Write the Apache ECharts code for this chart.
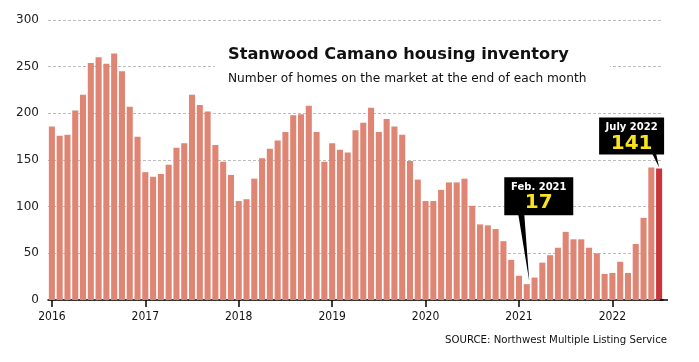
<!DOCTYPE html>
<html>
<head>
<meta charset="utf-8">
<script src="https://cdn.jsdelivr.net/npm/echarts@6/dist/echarts.min.js"></script>
<style>
html,body{margin:0;padding:0;background:#fff;}
#chart{width:699px;height:362px;}
</style>
</head>
<body>
<div id="chart"></div>
<script>
// ---- data ----
const years = ['2016','2017','2018','2019','2020','2021','2022'];
const monthNames = ['Jan','Feb','Mar','Apr','May','Jun','Jul','Aug','Sep','Oct','Nov','Dec'];
const inv2016 = [186,176,177,203,220,254,260,253,264,245,207,175];
const inv2017 = [137,132,135,145,163,168,220,209,202,166,148,134];
const inv2018 = [106,108,130,152,162,171,180,198,199,208,180,148];
const inv2019 = [168,161,158,182,190,206,180,194,186,177,149,129];
const inv2020 = [106,106,118,126,126,130,101,81,80,76,63,43];
const inv2021 = [26,17,24,40,48,56,73,65,65,56,50,28];
const inv2022 = [29,41,29,60,88,142,141];
const yTicks = [0,50,100,150,200,250,300];
const titleText = 'Stanwood Camano housing inventory';
const subtitleText = 'Number of homes on the market at the end of each month';
const sourceText = 'SOURCE: Northwest Multiple Listing Service';
const callouts = [
  {label: 'Feb. 2021', year: '2021', month: 'Feb'},
  {label: 'July 2022', year: '2022', month: 'Jul'}
];

const yearly = [inv2016, inv2017, inv2018, inv2019, inv2020, inv2021, inv2022];
const categories = [];
const values = [];
yearly.forEach((arr, yi) => {
  arr.forEach((v, mi) => {
    categories.push(years[yi] + ' ' + monthNames[mi]);
    values.push(v);
  });
});
const lastIdx = values.length - 1;

const chart = echarts.init(document.getElementById('chart'), null, {renderer: 'canvas'});
const LIGHT = '#df8574', DARK = '#c8353b';
const axisFont = "'DejaVu Sans Condensed','Liberation Sans',sans-serif";

chart.setOption({
  animation: false,
  backgroundColor: '#fff',
  grid: {left: 48, right: 36, top: 20, bottom: 62, containLabel: false},
  xAxis: {
    type: 'category',
    data: categories,
    boundaryGap: true,
    axisLine: {show: true, lineStyle: {color: '#000', width: 1.5}},
    axisTick: {show: true, alignWithLabel: true, length: 7, interval: (i) => i % 12 === 0, lineStyle: {color: '#000', width: 1.5}},
    axisLabel: {
      interval: (i) => i % 12 === 0,
      formatter: (v) => v.split(' ')[0],
      color: '#111', fontFamily: axisFont, fontSize: 12, margin: 11
    },
    splitLine: {show: false}
  },
  yAxis: {
    type: 'value',
    min: yTicks[0], max: yTicks[yTicks.length - 1], interval: 50,
    axisLine: {show: false},
    axisTick: {show: false},
    axisLabel: {color: '#222', fontFamily: "'DejaVu Sans',sans-serif", fontSize: 12, margin: 9},
    splitLine: {show: true, lineStyle: {color: '#bdbdbd', type: [3, 2], width: 1}}
  },
  series: [{
    type: 'bar',
    data: values,
    barCategoryGap: '22%',
    itemStyle: {color: (p) => p.dataIndex === lastIdx ? DARK : LIGHT},
    z: 2
  }]
});

const graphics = [
  {type: 'line', z: 5, shape: {x1: 660, y1: 300, x2: 668, y2: 300}, style: {stroke: '#000', lineWidth: 1.5}},
  {type: 'rect', z: 50, shape: {x: 215, y: 32, width: 395, height: 62}, style: {fill: '#fff'}},
  {type: 'text', z: 51, x: 228, y: 54.5, style: {text: titleText, font: "bold 16.2px 'DejaVu Sans', sans-serif", fill: '#111', textVerticalAlign: 'middle'}},
  {type: 'text', z: 51, x: 228, y: 79, style: {text: subtitleText, font: "12.2px 'DejaVu Sans', sans-serif", fill: '#111', textVerticalAlign: 'middle'}},
  {type: 'text', z: 51, x: 667, y: 340, style: {text: sourceText, font: "11.3px 'DejaVu Sans Condensed','Liberation Sans',sans-serif", fill: '#111', textAlign: 'right', textVerticalAlign: 'middle'}}
];

// callouts, positioned from data through the series scale
const layouts = [
  {dx: 12, gap: 69, w: 69, h: 38, baseL: -8.5, baseR: -2.5, tipDx: 2.5, tipDy: -3},
  {dx: -27.5, gap: 14, w: 65, h: 37, baseL: -7, baseR: -3, tipDx: 0, tipDy: -1}
];
callouts.forEach((c, k) => {
  const idx = categories.indexOf(c.year + ' ' + c.month);
  const val = values[idx];
  const pt = chart.convertToPixel({seriesIndex: 0}, [idx, val]);
  const L = layouts[k];
  const cx = pt[0] + L.dx;
  const bottom = pt[1] - L.gap;
  const top = bottom - L.h;
  graphics.push({type: 'polygon', z: 60, shape: {points: [[pt[0] + L.baseL, bottom - 1], [pt[0] + L.baseR, bottom - 1], [pt[0] + L.tipDx, pt[1] + L.tipDy]]}, style: {fill: '#000'}});
  graphics.push({type: 'rect', z: 60, shape: {x: cx - L.w / 2, y: top, width: L.w, height: L.h}, style: {fill: '#000'}});
  graphics.push({type: 'text', z: 61, x: cx, y: top + 10, style: {text: c.label, font: "bold 10px 'DejaVu Sans', sans-serif", fill: '#fff', textAlign: 'center', textVerticalAlign: 'middle'}});
  graphics.push({type: 'text', z: 61, x: cx, y: top + 26, style: {text: String(val), font: "bold 20px 'DejaVu Sans', sans-serif", fill: '#f7e320', textAlign: 'center', textVerticalAlign: 'middle'}});
});

chart.setOption({graphic: {elements: graphics}});
</script>
</body>
</html>
